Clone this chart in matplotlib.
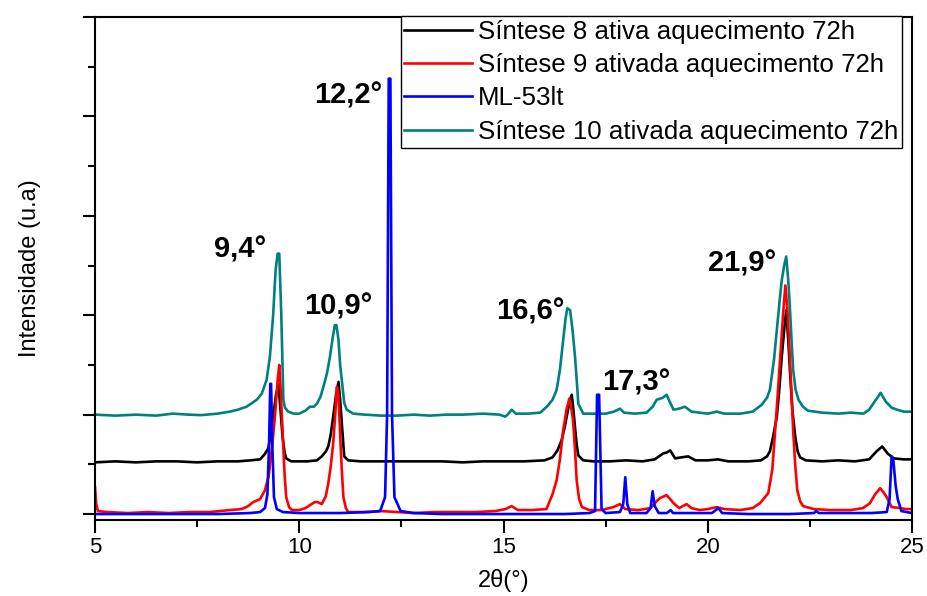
import matplotlib
matplotlib.use("Agg")
from matplotlib import pyplot as plt
from matplotlib.ticker import MultipleLocator

plt.rcParams['font.family'] = ['Liberation Sans', 'DejaVu Sans']

# two-theta / intensity points (arbitrary units)
x_s10 = [5.0, 5.5, 6.0, 6.5, 6.9, 7.3, 7.6, 8.0, 8.3, 8.5, 8.71, 8.96, 9.08, 9.2, 9.28, 9.36,
         9.42, 9.47, 9.51, 9.56, 9.61, 9.65, 9.73, 9.86, 10.0, 10.15, 10.26, 10.36, 10.43, 10.52,
         10.59, 10.68, 10.75, 10.82, 10.87, 10.91, 10.96, 11.0, 11.04, 11.1, 11.16, 11.32, 11.6,
         12.0, 12.4, 12.8, 13.2, 13.6, 14.0, 14.5, 14.9, 15.04, 15.1, 15.2, 15.3, 15.6, 15.9,
         16.06, 16.2, 16.3, 16.38, 16.46, 16.52, 16.56, 16.63, 16.69, 16.75, 16.8, 16.83, 16.95,
         17.2, 17.5, 17.7, 17.85, 17.95, 18.2, 18.5, 18.65, 18.75, 18.9, 18.99, 19.08, 19.16,
         19.3, 19.44, 19.6, 19.8, 20.0, 20.22, 20.4, 20.8, 21.1, 21.32, 21.45, 21.52, 21.62,
         21.69, 21.76, 21.81, 21.87, 21.92, 21.97, 22.01, 22.05, 22.09, 22.15, 22.22, 22.33,
         22.45, 22.8, 23.2, 23.5, 23.81, 23.95, 24.05, 24.15, 24.23, 24.3, 24.36, 24.5, 24.63,
         24.8, 25.0]
y_s10 = [1.00, 0.99, 1.00, 0.99, 1.01, 1.00, 0.995, 1.01, 1.03, 1.05, 1.08, 1.15, 1.21, 1.35, 1.58, 2.0,
         2.45, 2.62, 2.62, 2.0, 1.15, 1.07, 1.03, 1.01, 1.01, 1.04, 1.08, 1.08, 1.11, 1.18,
         1.28, 1.42, 1.58, 1.78, 1.90, 1.90, 1.75, 1.5, 1.35, 1.12, 1.05, 1.01, 1.0,
         0.99, 0.99, 1.0, 0.99, 1.0, 1.0, 1.01, 1.0, 0.98, 1.0, 1.05, 1.01, 1.01, 1.02,
         1.08, 1.15, 1.25, 1.45, 1.75, 1.97, 2.07, 2.05, 1.85, 1.58, 1.3, 1.11, 1.01,
         1.01, 1.01, 1.03, 1.06, 1.02, 1.01, 1.02, 1.08, 1.15, 1.17, 1.20, 1.12, 1.05,
         1.06, 1.08, 1.03, 1.02, 1.01, 1.03, 1.01, 1.01, 1.03, 1.10, 1.17, 1.25, 1.55,
         1.85, 2.15, 2.35, 2.5, 2.59, 2.35, 2.08, 1.75, 1.45, 1.25, 1.15, 1.08,
         1.04, 1.02, 1.01, 1.02, 1.01, 1.05, 1.11, 1.17, 1.22, 1.17, 1.13, 1.07, 1.05,
         1.03, 1.03]

x_s8 = [5.0, 5.5, 6.0, 6.5, 7.0, 7.5, 8.0, 8.5, 8.8, 9.04, 9.15, 9.24, 9.3, 9.36, 9.43, 9.49,
        9.54, 9.59, 9.64, 9.68, 9.8, 10.0, 10.2, 10.43, 10.55, 10.65, 10.71, 10.77, 10.83, 10.9,
        10.96, 11.0, 11.04, 11.1, 11.2, 11.5, 12.0, 12.5, 13.0, 13.5, 14.0, 14.5, 15.0, 15.5,
        16.0, 16.2, 16.32, 16.42, 16.5, 16.56, 16.62, 16.67, 16.71, 16.75, 16.79, 16.83, 16.95,
        17.2, 17.6, 18.0, 18.4, 18.7, 18.91, 19.0, 19.08, 19.2, 19.35, 19.52, 19.7, 20.0, 20.25,
        20.5, 21.0, 21.3, 21.45, 21.52, 21.6, 21.69, 21.75, 21.81, 21.87, 21.92, 21.97, 22.01,
        22.07, 22.14, 22.2, 22.26, 22.4, 22.8, 23.2, 23.6, 23.95, 24.13, 24.27, 24.4, 24.55,
        24.8, 25.0]
y_s8 = [0.52, 0.53, 0.52, 0.53, 0.53, 0.52, 0.53, 0.53, 0.54, 0.55, 0.6, 0.66, 0.8, 0.98, 1.2, 1.30,
        1.05, 0.78, 0.62, 0.56, 0.53, 0.53, 0.53, 0.54, 0.58, 0.63, 0.68, 0.8, 0.98, 1.2,
        1.33, 1.15, 0.92, 0.58, 0.54, 0.53, 0.53, 0.53, 0.53, 0.53, 0.52, 0.53, 0.53, 0.53,
        0.54, 0.57, 0.64, 0.74, 0.88, 1.01, 1.14, 1.20, 1.05, 0.87, 0.7, 0.59, 0.54,
        0.53, 0.53, 0.54, 0.53, 0.55, 0.61, 0.62, 0.64, 0.56, 0.57, 0.58, 0.54, 0.54, 0.55,
        0.53, 0.53, 0.54, 0.58, 0.63, 0.78, 0.98, 1.25, 1.58, 1.85, 2.05, 1.75, 1.45,
        1.05, 0.78, 0.63, 0.57, 0.54, 0.53, 0.54, 0.53, 0.55, 0.63, 0.68, 0.61, 0.56,
        0.55, 0.55]

x_s9 = [5.0, 5.03, 5.07, 5.3, 5.8, 6.3, 6.8, 7.3, 7.8, 8.3, 8.59, 8.75, 8.87, 9.04, 9.16, 9.25,
        9.34, 9.41, 9.47, 9.51, 9.55, 9.59, 9.64, 9.68, 9.75, 9.82, 10.0, 10.15, 10.26, 10.38,
        10.45, 10.55, 10.65, 10.71, 10.77, 10.83, 10.88, 10.92, 10.96, 11.0, 11.04, 11.08, 11.14,
        11.2, 11.6, 12.0, 12.4, 12.8, 13.3, 13.8, 14.3, 14.8, 15.05, 15.2, 15.35, 15.7, 16.05,
        16.2, 16.3, 16.38, 16.46, 16.54, 16.61, 16.66, 16.7, 16.75, 16.79, 16.85, 16.92, 17.1,
        17.4, 17.69, 17.85, 17.98, 18.3, 18.6, 18.75, 18.83, 18.99, 19.08, 19.16, 19.3, 19.48,
        19.6, 19.8, 20.0, 20.22, 20.4, 20.8, 21.1, 21.28, 21.48, 21.58, 21.65, 21.72, 21.79,
        21.85, 21.90, 21.95, 21.99, 22.04, 22.09, 22.14, 22.19, 22.26, 22.33, 22.6, 23.0, 23.5,
        23.8, 23.97, 24.1, 24.22, 24.3, 24.38, 24.5, 24.71, 24.85, 25.0]
y_s9 = [0.27, 0.1, 0.03, 0.02, 0.01, 0.02, 0.01, 0.02, 0.02, 0.04, 0.05, 0.08, 0.12, 0.15, 0.24, 0.38,
        0.7, 1.01, 1.35, 1.50, 1.2, 0.84, 0.4, 0.17, 0.07, 0.04, 0.04, 0.06, 0.09, 0.12,
        0.12, 0.10, 0.18, 0.31, 0.48, 0.71, 1.0, 1.28, 1.2, 0.8, 0.45, 0.17, 0.06,
        0.02, 0.02, 0.03, 0.02, 0.01, 0.02, 0.02, 0.02, 0.03, 0.05, 0.08, 0.04, 0.04, 0.05,
        0.2, 0.34, 0.55, 0.84, 1.05, 1.16, 1.06, 0.95, 0.65, 0.34, 0.15, 0.07, 0.04,
        0.04, 0.07, 0.10, 0.05, 0.04, 0.06, 0.13, 0.16, 0.19, 0.15, 0.11, 0.06, 0.10,
        0.06, 0.04, 0.05, 0.07, 0.05, 0.04, 0.06, 0.11, 0.21, 0.45, 0.84, 1.25, 1.68,
        2.05, 2.30, 2.05, 1.74, 1.3, 0.84, 0.5, 0.24, 0.13, 0.08, 0.05, 0.04, 0.04,
        0.06, 0.11, 0.2, 0.26, 0.22, 0.17, 0.07, 0.06, 0.05, 0.05]

x_ml53 = [5.0, 6.0, 7.0, 8.0, 8.8, 9.04, 9.16, 9.22, 9.26, 9.29, 9.31, 9.34, 9.38, 9.45, 9.6,
          10.0, 11.0, 11.7, 11.98, 12.1, 12.15, 12.19, 12.23, 12.27, 12.33, 12.48, 12.8, 13.5,
          14.5, 15.5, 16.5, 17.1, 17.24, 17.29, 17.34, 17.4, 17.5, 17.85, 17.93, 17.98, 18.03,
          18.1, 18.5, 18.6, 18.65, 18.7, 18.8, 19.0, 19.09, 19.15, 20.1, 20.26, 20.35, 21.0,
          22.0, 22.6, 22.65, 22.72, 24.0, 24.38, 24.45, 24.5, 24.54, 24.6, 24.65, 24.74, 25.0]
y_ml53 = [0.0, 0.0, 0.0, 0.0, 0.01, 0.02, 0.06, 0.2, 0.7, 1.31, 1.31, 0.7, 0.17, 0.05, 0.02,
          0.01, 0.01, 0.02, 0.03, 0.17, 1.0, 4.38, 4.38, 1.0, 0.17, 0.03, 0.01, 0.0,
          0.0, 0.0, 0.0, 0.01, 0.03, 1.2, 1.2, 0.05, 0.01, 0.02, 0.1, 0.37, 0.1,
          0.01, 0.01, 0.06, 0.23, 0.08, 0.01, 0.01, 0.04, 0.01, 0.01, 0.06, 0.01, 0.0,
          0.0, 0.01, 0.03, 0.01, 0.01, 0.02, 0.15, 0.58, 0.55, 0.28, 0.15, 0.03, 0.01]

peak_labels = ['9,4°', '10,9°', '12,2°', '16,6°', '17,3°', '21,9°']
label_x = [8.55, 10.95, 11.19, 15.65, 18.24, 20.84]
label_y = [2.66, 2.09, 4.21, 2.04, 1.32, 2.52]

fig = plt.figure(figsize=(9.28, 5.96), dpi=100)
ax = fig.add_axes([0.1024, 0.1275, 0.8804, 0.844])

lw = 1.9
l10, = ax.plot(x_s10, y_s10, color='#008080', lw=lw, label='Síntese 10 ativada aquecimento 72h')
l8, = ax.plot(x_s8, y_s8, color='black', lw=lw, label='Síntese 8 ativa aquecimento 72h')
l9, = ax.plot(x_s9, y_s9, color='#ff0000', lw=lw, label='Síntese 9 ativada aquecimento 72h')
lml, = ax.plot(x_ml53, y_ml53, color='#0000ff', lw=lw, label='ML-53lt')

for txt, tx, ty in zip(peak_labels, label_x, label_y):
    ax.text(tx, ty, txt, fontsize=21, fontweight='bold', ha='center', va='center')

ax.set_xlim(5, 25)
ax.set_ylim(-0.06, 5.0)
ax.xaxis.set_major_locator(MultipleLocator(5))
ax.xaxis.set_minor_locator(MultipleLocator(2.5))
ax.yaxis.set_major_locator(MultipleLocator(1))
ax.yaxis.set_minor_locator(MultipleLocator(0.5))
ax.tick_params(which='major', direction='out', length=9, width=1.5, labelsize=16)
ax.tick_params(which='minor', direction='out', length=5, width=1.5)
ax.tick_params(axis='y', labelleft=False)
for sp in ax.spines.values():
    sp.set_linewidth(1.5)

ax.set_xlabel('2θ(°)', fontsize=17, labelpad=8)
ax.set_ylabel('Intensidade (u.a)', fontsize=17, labelpad=30)

leg = ax.legend(handles=[l8, l9, lml, l10], loc='upper right', bbox_to_anchor=(0.988, 1.002),
                fontsize=18.6, frameon=True, fancybox=False, framealpha=1, edgecolor='black',
                borderpad=0.15, labelspacing=0.36, handlelength=2.6, handletextpad=0.25,
                borderaxespad=0)
leg.get_frame().set_linewidth(1.0)

fig.savefig('out.png', dpi=100)
